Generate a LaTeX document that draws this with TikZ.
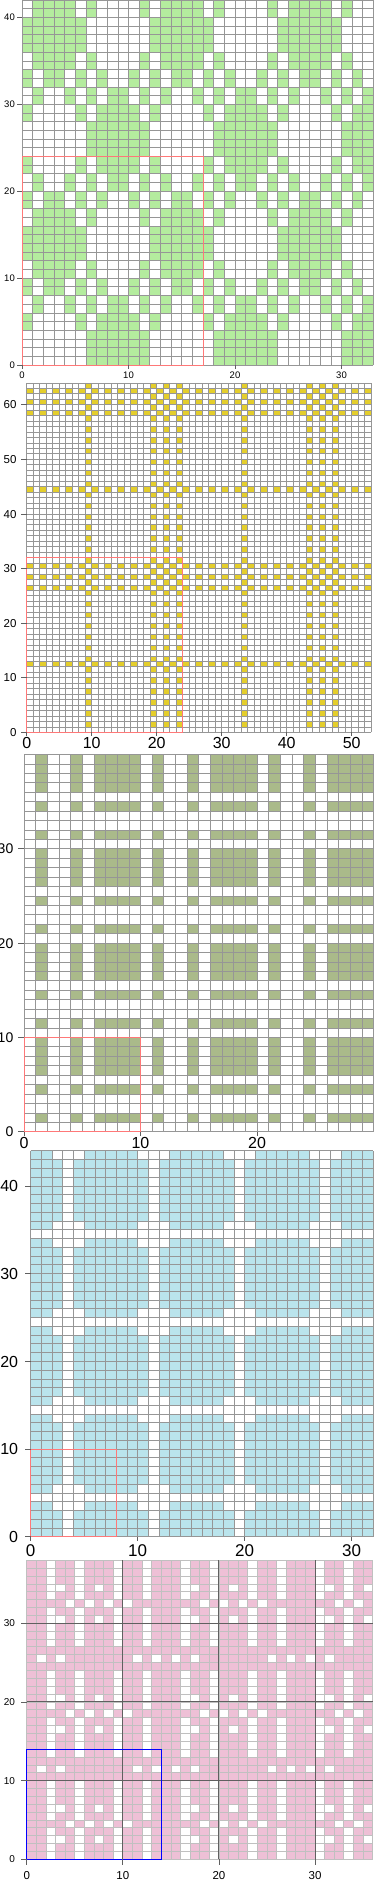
\documentclass[tikz,border=0pt]{standalone}
\usepackage{fontspec}
\setmainfont{Liberation Sans}
\usetikzlibrary{positioning}

\definecolor{leafgreen}{RGB}{180,236,158}
\definecolor{cornyellow}{RGB}{228,206,44}
\definecolor{olivegreen}{RGB}{170,186,138}
\definecolor{skyblue}{RGB}{186,228,236}
\definecolor{rosepink}{RGB}{238,192,214}
\definecolor{gridgray}{RGB}{150,150,150}
\definecolor{lightgray}{RGB}{192,192,192}
\definecolor{darkgray}{RGB}{96,96,96}
\definecolor{repeatred}{RGB}{255,120,120}

% green cells of the first draft, one list per row class
\def\rowA{6,7,8,9,10,11}
\def\rowB{0,5,7,8,9,10}
\def\rowC{1,4,6,8,9,11}
\def\rowD{0,2,3,5,7,10}
\def\rowE{1,2,3,4,6,11}
\def\rowF{0,1,2,3,4,5}
\newcommand\leafrow[1]{\ifcase#1 \rowA\or\rowA\or\rowA\or\rowA\or\rowB\or\rowB\or\rowC\or\rowC\or\rowD\or\rowD\or\rowE\or\rowE\or\rowF\or\rowF\or\rowF\or\rowF\or\rowE\or\rowE\or\rowD\or\rowD\or\rowC\or\rowC\or\rowB\or\rowB\fi}

% pink cells of the last draft
\newcommand\roserow[1]{\ifcase#1 0,1,3,4,6,7,8,10,11,13\or 0,1,3,4,6,7,8,10,11,13\or 0,1,4,6,8,10,11,13\or 0,1,3,4,6,7,8,10,11,13\or 0,1,2,3,5,7,9,11,12,13\or 0,1,3,4,6,7,8,10,11,13\or 0,1,4,6,8,10,11,13\or 0,1,3,4,6,7,8,10,11,13\or 0,1,3,4,6,7,8,10,11,13\or 0,1,3,4,6,7,8,10,11,13\or 0,1,2,3,4,5,6,7,8,9,10,11,12,13\or 0,2,4,5,6,7,8,9,10,12\or 0,1,2,3,4,5,6,7,8,9,10,11,12,13\or 0,1,3,4,6,7,8,10,11,13\fi}

\begin{document}
\begin{tikzpicture}[x=1pt, y=-1pt]
	\tikzstyle{cell} = [draw=gridgray, line width=0.7pt]
	\tikzstyle{softcell} = [draw=lightgray, line width=0.7pt]
	\tikzstyle{tenline} = [draw=darkgray, line width=0.9pt]
	\tikzstyle{frame} = [draw=repeatred, line width=1pt]
	\tikzstyle{tick} = [draw=darkgray, line width=0.7pt]
	\tikzstyle{lab} = [inner sep=0pt, text=black]

	\useasboundingbox (0,0) rectangle (373,1880);

	% first draft
	\begin{scope}[shift={(22,365)}, x=10.65pt, y=8.69pt]
		\foreach \yy in {0,...,41} {
			\pgfmathtruncatemacro\rr{mod(\yy,24)}
			\edef\lst{\leafrow{\rr}}
			\foreach \kk in \lst
				\foreach \oo in {0,12,24} {
					\pgfmathtruncatemacro\xx{\kk+\oo}
					\ifnum\xx<33 \fill[leafgreen] (\xx,\yy) rectangle ++(1,1); \fi
				}
		}
		\foreach \xx in {0,...,33} \draw[cell] (\xx,0) -- (\xx,42);
		\foreach \yy in {0,...,42} \draw[cell] (0,\yy) -- (33,\yy);
		\draw[frame] (0,0) rectangle (17,24);
		\foreach \t in {0,10,20,30} {
			\draw[tick] (\t,0) -- ++(0,-4pt);
			\node[lab, font=\fontsize{9.5}{10}\selectfont, anchor=base] (pa-x\t) at ([yshift=-13.5pt]\t,0) {\t};
		}
		\foreach \t in {0,10,20,30,40} {
			\draw[tick] (0,\t) -- ++(-5pt,0);
			\node[lab, font=\fontsize{9.5}{10}\selectfont, anchor=base east] (pa-y\t) at ([xshift=-7pt, yshift=-3.4pt]0,\t) {\t};
		}
	\end{scope}

	% second draft
	\begin{scope}[shift={(26.7,732.3)}, x=6.5pt, y=5.46pt]
		\foreach \yy in {12,26,28,30,44,58,60,62}
			\foreach \xx in {0,2,...,52}
				\fill[cornyellow] (\xx,\yy) rectangle ++(1,1);
		\foreach \xx in {9,19,21,23,33,43,45,47}
			\foreach \yy in {1,3,...,63}
				\fill[cornyellow] (\xx,\yy) rectangle ++(1,1);
		\foreach \xx in {0,...,53} \draw[cell] (\xx,0) -- (\xx,64);
		\foreach \yy in {0,...,64} \draw[cell] (0,\yy) -- (53,\yy);
		\draw[frame] (0,0) rectangle (24,32);
		\foreach \t in {0,10,20,30,40,50} {
			\draw[tick] (\t,0) -- ++(0,-4pt);
			\node[lab, font=\fontsize{16}{17}\selectfont, anchor=base] (pb-x\t) at ([yshift=-16pt]\t,0) {\t};
		}
		\foreach \t in {0,10,20,30,40,50,60} {
			\draw[tick] (0,\t) -- ++(-6pt,0);
			\node[lab, font=\fontsize{11.5}{12}\selectfont, anchor=base east] (pb-y\t) at ([xshift=-10pt, yshift=-4.1pt]0,\t) {\t};
		}
	\end{scope}

	% third draft
	\begin{scope}[shift={(24,1131.7)}, x=11.65pt, y=9.43pt]
		\foreach \by in {0,10,20,30}
			\foreach \gy in {1,4,6,7,8,9}
				\foreach \bx in {0,10,20}
					\foreach \gx in {1,4,6,7,8,9}
						\fill[olivegreen] (\bx+\gx,\by+\gy) rectangle ++(1,1);
		\foreach \xx in {0,...,30} \draw[cell] (\xx,0) -- (\xx,40);
		\foreach \yy in {0,...,40} \draw[cell] (0,\yy) -- (30,\yy);
		\draw[frame] (0,0) rectangle (10,10);
		\foreach \t in {0,10,20} {
			\draw[tick] (\t,0) -- ++(0,-4pt);
			\node[lab, font=\fontsize{16}{17}\selectfont, anchor=base] (pc-x\t) at ([yshift=-16.5pt]\t,0) {\t};
		}
		\foreach \t in {0,10,20,30} {
			\draw[tick] (0,\t) -- ++(-6pt,0);
			\node[lab, font=\fontsize{14}{15}\selectfont, anchor=base east] (pc-y\t) at ([xshift=-10.5pt, yshift=-5pt]0,\t) {\t};
		}
	\end{scope}

	% fourth draft
	\begin{scope}[shift={(30.7,1536.7)}, x=10.7pt, y=8.77pt]
		\begin{scope}
			\clip (0,0) rectangle (32,44);
			\fill[skyblue] (0,0) rectangle (32,44);
			\foreach \xx in {3,11,19,27} \fill[white] (\xx,0) rectangle ++(1,44);
			\foreach \yy in {4,14,24,34,44} {
				\fill[white] (0,\yy) rectangle ++(32,1);
				\foreach \xx in {2,10,18,26} {
					\fill[white] (\xx,\yy-1) rectangle ++(3,1);
					\fill[white] (\xx,\yy+1) rectangle ++(3,1);
				}
			}
		\end{scope}
		\foreach \xx in {0,...,32} \draw[cell] (\xx,0) -- (\xx,44);
		\foreach \yy in {0,...,44} \draw[cell] (0,\yy) -- (32,\yy);
		\draw[frame] (0,0) rectangle (8,10);
		\foreach \t in {0,10,20,30} {
			\draw[tick] (\t,0) -- ++(0,-4pt);
			\node[lab, font=\fontsize{17}{18}\selectfont, anchor=base] (pd-x\t) at ([yshift=-20pt]\t,0) {\t};
		}
		\foreach \t in {0,10,20,30,40} {
			\draw[tick] (0,\t) -- ++(-6pt,0);
			\node[lab, font=\fontsize{16}{17}\selectfont, anchor=base east] (pd-y\t) at ([xshift=-12.4pt, yshift=-5.8pt]0,\t) {\t};
		}
	\end{scope}

	% fifth draft
	\begin{scope}[shift={(26.7,1859.3)}, x=9.61pt, y=7.87pt]
		\foreach \yy in {0,...,37} {
			\pgfmathtruncatemacro\rr{mod(\yy,14)}
			\edef\lst{\roserow{\rr}}
			\foreach \kk in \lst
				\foreach \oo in {0,14,28} {
					\pgfmathtruncatemacro\xx{\kk+\oo}
					\ifnum\xx<36 \fill[rosepink] (\xx,\yy) rectangle ++(1,1); \fi
				}
		}
		\foreach \xx in {0,...,36} \draw[softcell] (\xx,0) -- (\xx,38);
		\foreach \yy in {0,...,38} \draw[softcell] (0,\yy) -- (36,\yy);
		\foreach \t in {10,20,30} {
			\draw[tenline] (\t,0) -- (\t,38);
			\draw[tenline] (0,\t) -- (36,\t);
		}
		\draw[draw=blue, line width=1pt] (0,0) rectangle (14,14);
		\foreach \t in {0,10,20,30} {
			\draw[tick] (\t,0) -- ++(0,-6pt);
			\node[lab, font=\fontsize{11.5}{12}\selectfont, anchor=base] (pe-x\t) at ([yshift=-20pt]\t,0) {\t};
			\draw[tick] (0,\t) -- ++(-6pt,0);
			\node[lab, font=\fontsize{10}{11}\selectfont, anchor=base east] (pe-y\t) at ([xshift=-11.5pt, yshift=-3.6pt]0,\t) {\t};
		}
	\end{scope}
\end{tikzpicture}
\end{document}
